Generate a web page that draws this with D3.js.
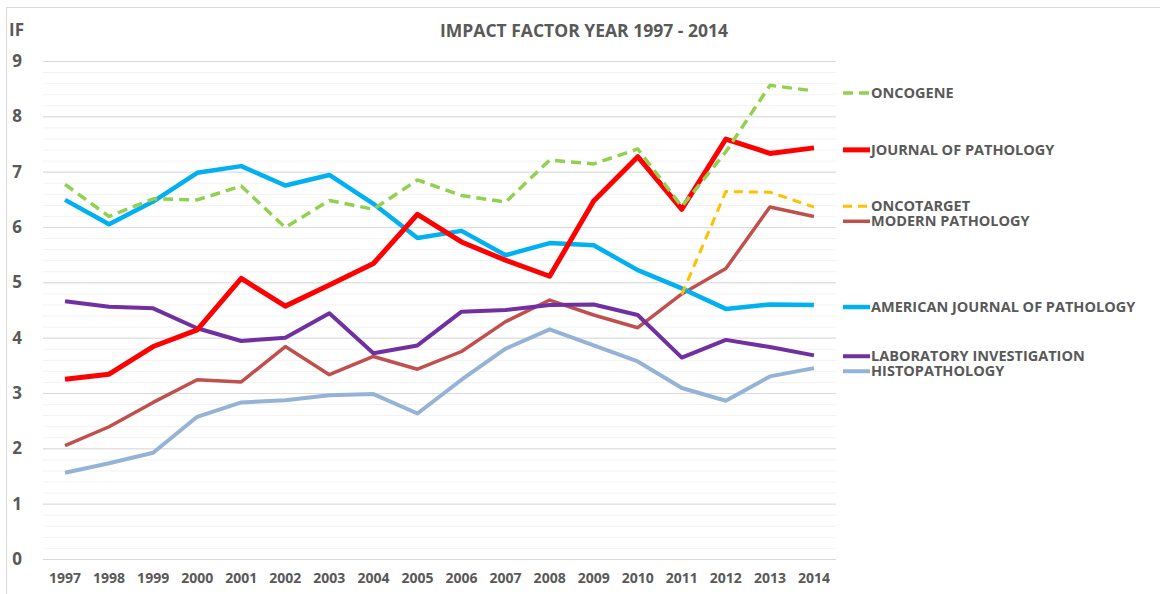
<!DOCTYPE html>
<html>
<head>
<meta charset="utf-8">
<script src="https://cdn.jsdelivr.net/npm/d3@7"></script>
<style>
  body { margin: 0; background: #fff; }
  svg text { font-family: "Open Sans", "Liberation Sans", sans-serif; font-weight: bold; fill: #595959; }
</style>
</head>
<body>
<svg id="chart"></svg>
<script>
// values
const years = ["1997","1998","1999","2000","2001","2002","2003","2004","2005","2006","2007","2008","2009","2010","2011","2012","2013","2014"];
const oncogene      = [6.77, 6.19, 6.51, 6.49, 6.74, 5.99, 6.48, 6.32, 6.85, 6.57, 6.45, 7.21, 7.14, 7.41, 6.37, 7.36, 8.56, 8.46];
const journalPath   = [3.25, 3.34, 3.84, 4.14, 5.07, 4.57, 4.95, 5.34, 6.23, 5.73, 5.40, 5.11, 6.47, 7.27, 6.32, 7.59, 7.33, 7.43];
const oncotarget    = [null, null, null, null, null, null, null, null, null, null, null, null, null, null, 4.78, 6.64, 6.63, 6.36];
const modernPath    = [2.05, 2.39, 2.83, 3.24, 3.20, 3.84, 3.33, 3.66, 3.43, 3.75, 4.29, 4.68, 4.41, 4.18, 4.79, 5.25, 6.36, 6.19];
const amJournalPath = [6.49, 6.05, 6.46, 6.98, 7.10, 6.75, 6.94, 6.42, 5.80, 5.93, 5.49, 5.71, 5.67, 5.22, 4.89, 4.52, 4.60, 4.59];
const labInvest     = [4.66, 4.56, 4.53, 4.17, 3.94, 4.00, 4.44, 3.72, 3.86, 4.47, 4.50, 4.59, 4.60, 4.41, 3.64, 3.96, 3.83, 3.68];
const histopath     = [1.56, 1.73, 1.92, 2.57, 2.83, 2.87, 2.96, 2.98, 2.63, 3.24, 3.80, 4.15, 3.86, 3.57, 3.09, 2.86, 3.30, 3.45];
const yTicks = [0, 1, 2, 3, 4, 5, 6, 7, 8, 9];

// drawing order = bottom to top; legend order follows the end points
const series = [
    { name: "HISTOPATHOLOGY",                 values: histopath,     color: "#95B3D7", width: 4,   dash: null },
    { name: "MODERN PATHOLOGY",               values: modernPath,    color: "#C0504D", width: 3.5, dash: null },
    { name: "LABORATORY INVESTIGATION",       values: labInvest,     color: "#7030A0", width: 4,   dash: null },
    { name: "AMERICAN JOURNAL OF PATHOLOGY",  values: amJournalPath, color: "#00B0F0", width: 4.5, dash: null },
    { name: "JOURNAL OF PATHOLOGY",           values: journalPath,   color: "#FF0000", width: 5,   dash: null },
    { name: "ONCOTARGET",                     values: oncotarget,    color: "#FFC000", width: 3,   dash: "9,6" },
    { name: "ONCOGENE",                       values: oncogene,      color: "#92D050", width: 3.5, dash: "10,6" }
];

const width = 1160, height = 594;
const margin = { top: 61, right: 324, bottom: 35, left: 43 };

let svg = d3.select("#chart")
    .attr("width", width)
    .attr("height", height);

// outer frame (only top and left edges fall inside the picture)
svg.append("rect")
    .attr("x", 6.5).attr("y", 7.5)
    .attr("width", 1300).attr("height", 800)
    .attr("fill", "none")
    .attr("stroke", "#D9D9D9");

let xScale = d3.scaleBand()
    .domain(years)
    .range([margin.left, width - margin.right]);

let yScale = d3.scaleLinear()
    .domain([0, 9])
    .range([height - margin.bottom, margin.top]);

let xc = yr => xScale(yr) + xScale.bandwidth() / 2;

// minor gridlines every 0.2
svg.append("g")
    .attr("transform", `translate(${margin.left},0)`)
    .call(d3.axisLeft(yScale).ticks(45).tickSize(-(width - margin.right - margin.left)).tickFormat(""))
    .call(g => g.select(".domain").remove())
    .call(g => g.selectAll("line").attr("stroke", "#F2F2F2"));

// major gridlines
svg.append("g")
    .attr("transform", `translate(${margin.left},0)`)
    .call(d3.axisLeft(yScale).tickValues(yTicks).tickSize(-(width - margin.right - margin.left)).tickFormat(""))
    .call(g => g.select(".domain").remove())
    .call(g => g.selectAll("line").attr("stroke", "#D9D9D9"));

// y labels
svg.append("g")
    .attr("transform", `translate(24,0)`)
    .call(d3.axisLeft(yScale).tickValues(yTicks).tickSize(0).tickPadding(0))
    .call(g => g.select(".domain").remove())
    .call(g => g.selectAll("text").attr("text-anchor", "middle").attr("x", -7)
        .style("font-size", "17px").attr("fill", "#595959"));

// x labels
svg.append("g")
    .attr("transform", `translate(0,${height - margin.bottom})`)
    .call(d3.axisBottom(xScale).tickSize(0).tickPadding(14))
    .call(g => g.select(".domain").remove())
    .call(g => g.selectAll("text").style("font-size", "14px").attr("fill", "#595959"));

// title and axis name
svg.append("text")
    .attr("x", 584).attr("y", 37)
    .attr("text-anchor", "middle")
    .style("font-size", "17.5px")
    .text("IMPACT FACTOR YEAR 1997 - 2014");

svg.append("text")
    .attr("x", 9).attr("y", 36)
    .style("font-size", "17px")
    .text("IF");

// lines
let line = d3.line()
    .defined(d => d != null)
    .x((d, i) => xc(years[i]))
    .y(d => yScale(d));

svg.append("g").selectAll("path")
    .data(series)
    .join("path")
        .attr("fill", "none")
        .attr("stroke", d => d.color)
        .attr("stroke-width", d => d.width)
        .attr("stroke-dasharray", d => d.dash)
        .attr("stroke-linejoin", "round")
        .attr("d", d => line(d.values));

// legend next to the end of each line, pushed apart a little when crowded
let legendItems = series.map(s => ({ s: s, y: yScale(s.values[s.values.length - 1]) + 2 }))
    .sort((a, b) => a.y - b.y);
for (let i = 1; i < legendItems.length; i++) {
    if (legendItems[i].y - legendItems[i - 1].y < 15) {
        let mid = (legendItems[i].y + legendItems[i - 1].y) / 2;
        legendItems[i - 1].y = mid - 7.5;
        legendItems[i].y = mid + 7.5;
    }
}

let legend = svg.append("g").selectAll("g")
    .data(legendItems)
    .join("g")
        .attr("transform", d => `translate(843,${d.y})`);

legend.append("line")
    .attr("x1", 0).attr("x2", 27)
    .attr("stroke", d => d.s.color)
    .attr("stroke-width", d => d.s.width)
    .attr("stroke-dasharray", d => d.s.dash);

legend.append("text")
    .attr("x", 28).attr("dy", "0.35em")
    .style("font-size", "14.5px")
    .text(d => d.s.name);
</script>
</body>
</html>
